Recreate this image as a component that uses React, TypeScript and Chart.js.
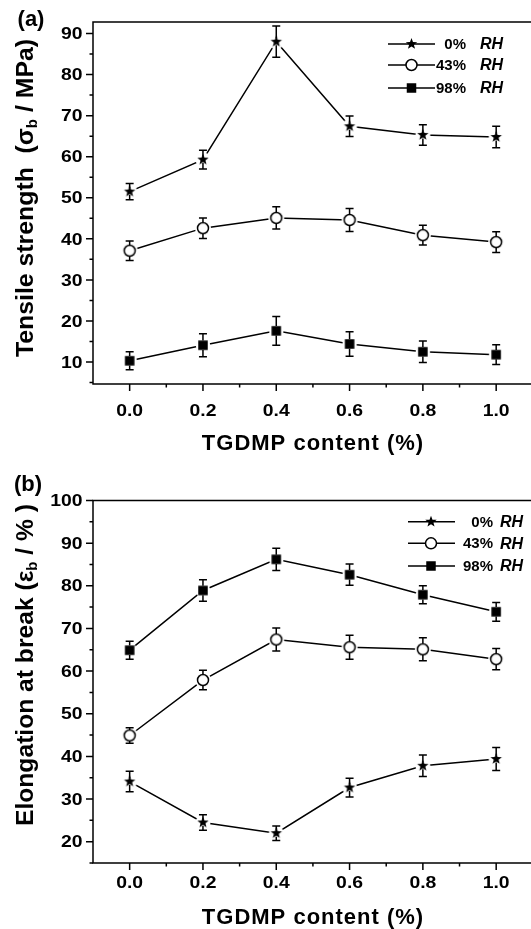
import React, { useEffect, useRef } from 'react';
import { Chart, registerables } from 'chart.js';
Chart.register(...registerables);

// ---------------- data ----------------
const xValues = [0, 0.2, 0.4, 0.6, 0.8, 1.0];
const xTickLabels = ['0.0', '0.2', '0.4', '0.6', '0.8', '1.0'];
const xMinorTicks = [0.1, 0.3, 0.5, 0.7, 0.9];
const seriesNames = ['0%', '43%', '98%'];

// (a) tensile strength, MPa
const tensile0 = [51.5, 59.3, 88.0, 67.4, 65.3, 64.8];
const tensile0Err = [2.0, 2.3, 3.8, 2.5, 2.5, 2.6];
const tensile43 = [37.1, 42.6, 45.1, 44.6, 40.9, 39.2];
const tensile43Err = [2.4, 2.5, 2.7, 2.8, 2.4, 2.5];
const tensile98 = [10.3, 14.1, 17.6, 14.4, 12.5, 11.8];
const tensile98Err = [2.2, 2.8, 3.5, 3.0, 2.6, 2.4];
const tensileTicks = [10, 20, 30, 40, 50, 60, 70, 80, 90];
const tensileMinor = [5, 15, 25, 35, 45, 55, 65, 75, 85];

// (b) elongation at break, %
const elong0 = [34.1, 24.5, 22.0, 32.7, 37.8, 39.4];
const elong0Err = [2.4, 1.8, 1.7, 2.2, 2.5, 2.7];
const elong43 = [44.9, 57.9, 67.4, 65.6, 65.1, 62.8];
const elong43Err = [1.8, 2.3, 2.7, 2.8, 2.7, 2.5];
const elong98 = [64.9, 78.9, 86.2, 82.6, 77.9, 73.9];
const elong98Err = [2.1, 2.5, 2.6, 2.5, 2.1, 2.2];
const elongTicks = [20, 30, 40, 50, 60, 70, 80, 90, 100];
const elongMinor = [15, 25, 35, 45, 55, 65, 75, 85, 95];

// ---------------- styling helpers ----------------
const FAM = '"Liberation Sans", Arial, Helvetica, sans-serif';
const font = (size: number, italic = false) => `${italic ? 'italic ' : ''}bold ${size}px ${FAM}`;
const STAR_R = 6;
const CIRCLE_R = 5.5;
const SQ = 9.5;
const CORE_R: Record<string, number> = { star: 3.5, circle: 5.5, square: 4.7 };
const kinds = ['star', 'circle', 'square'];

function drawGlyph(ctx: CanvasRenderingContext2D, kind: string, x: number, y: number) {
  ctx.save();
  ctx.lineWidth = 1.5;
  ctx.strokeStyle = '#000';
  ctx.fillStyle = '#000';
  if (kind === 'star') {
    ctx.beginPath();
    for (let i = 0; i < 10; i++) {
      const r = i % 2 === 0 ? STAR_R : STAR_R * 0.42;
      const a = -Math.PI / 2 + (i * Math.PI) / 5;
      const px = x + r * Math.cos(a);
      const py = y + r * Math.sin(a);
      if (i === 0) ctx.moveTo(px, py);
      else ctx.lineTo(px, py);
    }
    ctx.closePath();
    ctx.fill();
  } else if (kind === 'circle') {
    ctx.beginPath();
    ctx.arc(x, y, CIRCLE_R, 0, Math.PI * 2);
    ctx.fillStyle = '#fff';
    ctx.fill();
    ctx.stroke();
  } else {
    ctx.fillRect(x - SQ / 2, y - SQ / 2, SQ, SQ);
  }
  ctx.restore();
}

function markerCanvas(kind: string) {
  const c = document.createElement('canvas');
  c.width = 26;
  c.height = 26;
  const ctx = c.getContext('2d')!;
  const haloR = kind === 'circle' ? CIRCLE_R + 2.5 : kind === 'star' ? STAR_R + 1.5 : SQ / 2 + 2.5;
  ctx.beginPath();
  ctx.arc(13, 13, haloR, 0, Math.PI * 2);
  ctx.fillStyle = '#fff';
  ctx.fill();
  drawGlyph(ctx, kind, 13, 13);
  return c;
}

// text drawn with a horizontal stretch factor, anchored by align
function fillStretched(ctx: CanvasRenderingContext2D, text: string, x: number, y: number, sx: number, align: 'left' | 'right' | 'center') {
  ctx.save();
  ctx.translate(x, y);
  ctx.scale(sx, 1);
  ctx.textAlign = align;
  ctx.fillText(text, 0, 0);
  ctx.restore();
}

type Part = { text: string; sub?: boolean };

type PanelCfg = {
  height: number;
  top: number;
  padTop: number;
  chartBottom: number;
  yMin: number;
  yMax: number;
  xMax: number;
  yTicks: number[];
  yMinor: number[];
  series: { data: number[]; err: number[] }[];
  yTitle: Part[];
  yTitleBaseX: number;
  yTitleCenterY: number;
  yTitleLength: number;
  xTitle: string;
  xTitleCenterX: number;
  xTitleBaseY: number;
  xLabelY: number;
  tag: string;
  tagX: number;
  tagY: number;
  legX1: number;
  legX2: number;
  legMark: number;
  legRows: number[];
  legPctRight: number;
  legRhX: number;
};

const panelA: PanelCfg = {
  height: 460,
  top: 0,
  padTop: 22,
  chartBottom: 384,
  yMin: 4.65,
  yMax: 92.8,
  xMax: 1.095,
  yTicks: tensileTicks,
  yMinor: tensileMinor,
  series: [
    { data: tensile0, err: tensile0Err },
    { data: tensile43, err: tensile43Err },
    { data: tensile98, err: tensile98Err },
  ],
  yTitle: [{ text: 'Tensile strength  (σ' }, { text: 'b', sub: true }, { text: ' / MPa)' }],
  yTitleBaseX: 33,
  yTitleCenterY: 198,
  yTitleLength: 318,
  xTitle: 'TGDMP content (%)',
  xTitleCenterX: 313,
  xTitleBaseY: 450,
  xLabelY: 411.5,
  tag: '(a)',
  tagX: 31,
  tagY: 20,
  legX1: 388,
  legX2: 435,
  legMark: 411.5,
  legRows: [44, 65, 88],
  legPctRight: 466,
  legRhX: 480,
};

const panelB: PanelCfg = {
  height: 469,
  top: 460,
  padTop: 40.5,
  chartBottom: 403,
  yMin: 15,
  yMax: 100,
  xMax: 1.095,
  yTicks: elongTicks,
  yMinor: elongMinor,
  series: [
    { data: elong0, err: elong0Err },
    { data: elong43, err: elong43Err },
    { data: elong98, err: elong98Err },
  ],
  yTitle: [{ text: 'Elongation at break (ε' }, { text: 'b', sub: true }, { text: ' / % )' }],
  yTitleBaseX: 33,
  yTitleCenterY: 205,
  yTitleLength: 322,
  xTitle: 'TGDMP content (%)',
  xTitleCenterX: 313,
  xTitleBaseY: 464,
  xLabelY: 423,
  tag: '(b)',
  tagX: 28,
  tagY: 25,
  legX1: 408,
  legX2: 455,
  legMark: 431,
  legRows: [61.7, 83.3, 106],
  legPctRight: 493,
  legRhX: 500,
};

function makeDecor(cfg: PanelCfg) {
  return {
    id: 'decor',
    afterDatasetsDraw(chart: any) {
      const { ctx } = chart;
      const xs = chart.scales.x;
      const ys = chart.scales.y;
      ctx.save();
      ctx.strokeStyle = '#000';
      ctx.lineWidth = 1.5;
      chart.data.datasets.forEach((ds: any) => {
        const r = CORE_R[ds.kind];
        ds.data.forEach((p: any, j: number) => {
          const e = ds.errors[j];
          const px = xs.getPixelForValue(p.x);
          const yc = ys.getPixelForValue(p.y);
          const yt = ys.getPixelForValue(p.y + e);
          const yb = ys.getPixelForValue(p.y - e);
          ctx.beginPath();
          if (yc - r > yt) {
            ctx.moveTo(px, yt);
            ctx.lineTo(px, yc - r);
          }
          if (yc + r < yb) {
            ctx.moveTo(px, yc + r);
            ctx.lineTo(px, yb);
          }
          ctx.moveTo(px - 4, yt);
          ctx.lineTo(px + 4, yt);
          ctx.moveTo(px - 4, yb);
          ctx.lineTo(px + 4, yb);
          ctx.stroke();
        });
      });
      ctx.restore();
    },
    afterDraw(chart: any) {
      const { ctx, chartArea } = chart;
      const { left, right, top, bottom } = chartArea;
      const xs = chart.scales.x;
      const ys = chart.scales.y;
      ctx.save();
      ctx.strokeStyle = '#000';
      ctx.fillStyle = '#000';
      ctx.lineWidth = 1.5;
      // frame (right edge falls outside the picture)
      ctx.beginPath();
      ctx.moveTo(right + 2, top);
      ctx.lineTo(left, top);
      ctx.lineTo(left, bottom);
      ctx.lineTo(right + 2, bottom);
      ctx.stroke();
      // y ticks
      ctx.beginPath();
      cfg.yTicks.forEach((v) => {
        const py = ys.getPixelForValue(v);
        ctx.moveTo(left - 7, py);
        ctx.lineTo(left, py);
      });
      cfg.yMinor.forEach((v) => {
        const py = ys.getPixelForValue(v);
        ctx.moveTo(left - 3.5, py);
        ctx.lineTo(left, py);
      });
      // x ticks
      xValues.forEach((v) => {
        const px = xs.getPixelForValue(v);
        ctx.moveTo(px, bottom);
        ctx.lineTo(px, bottom + 7);
      });
      xMinorTicks.forEach((v) => {
        const px = xs.getPixelForValue(v);
        ctx.moveTo(px, bottom);
        ctx.lineTo(px, bottom + 3.5);
      });
      ctx.stroke();
      // y tick labels
      ctx.font = font(17);
      ctx.textBaseline = 'middle';
      cfg.yTicks.forEach((v) => {
        fillStretched(ctx, String(v), left - 10.5, ys.getPixelForValue(v) + 1, 1.14, 'right');
      });
      // x tick labels
      xValues.forEach((v, i) => {
        fillStretched(ctx, xTickLabels[i], xs.getPixelForValue(v), cfg.xLabelY, 1.14, 'center');
      });
      // x title
      ctx.font = font(22);
      ctx.textBaseline = 'alphabetic';
      ctx.textAlign = 'center';
      (ctx as any).letterSpacing = '1px';
      ctx.fillText(cfg.xTitle, cfg.xTitleCenterX, cfg.xTitleBaseY);
      (ctx as any).letterSpacing = '0px';
      // y title (rotated, with subscript), stretched to its length in the figure
      ctx.save();
      ctx.translate(cfg.yTitleBaseX, cfg.yTitleCenterY);
      ctx.rotate(-Math.PI / 2);
      ctx.textAlign = 'left';
      ctx.textBaseline = 'alphabetic';
      let total = 0;
      cfg.yTitle.forEach((p) => {
        ctx.font = font(p.sub ? 14 : 23);
        total += ctx.measureText(p.text).width;
      });
      ctx.scale(cfg.yTitleLength / total, 1);
      let cx = -total / 2;
      cfg.yTitle.forEach((p) => {
        ctx.font = font(p.sub ? 14 : 23);
        ctx.fillText(p.text, cx, p.sub ? 4 : 0);
        cx += ctx.measureText(p.text).width;
      });
      ctx.restore();
      // panel tag
      ctx.font = font(22);
      ctx.textAlign = 'center';
      ctx.textBaseline = 'middle';
      ctx.fillText(cfg.tag, cfg.tagX, cfg.tagY);
      // legend
      seriesNames.forEach((name, i) => {
        const y = cfg.legRows[i];
        ctx.beginPath();
        ctx.moveTo(cfg.legX1, y);
        ctx.lineTo(cfg.legX2, y);
        ctx.stroke();
        drawGlyph(ctx, kinds[i], cfg.legMark, y);
        ctx.font = font(15);
        ctx.textBaseline = 'middle';
        fillStretched(ctx, name, cfg.legPctRight, y + 1, 1.0, 'right');
        ctx.font = font(16, true);
        fillStretched(ctx, 'RH', cfg.legRhX, y + 1, 1.0, 'left');
      });
      ctx.restore();
    },
  };
}

function Panel({ cfg }: { cfg: PanelCfg }) {
  const ref = useRef<HTMLCanvasElement>(null);
  useEffect(() => {
    const canvas = ref.current!;
    const datasets = cfg.series.map((s, i) => ({
      label: seriesNames[i],
      data: xValues.map((x, j) => ({ x, y: s.data[j] })),
      errors: s.err,
      kind: kinds[i],
      borderColor: '#000',
      backgroundColor: '#000',
      borderWidth: 1.5,
      tension: 0,
      fill: false,
      showLine: true,
      pointStyle: markerCanvas(kinds[i]),
      pointRadius: 6,
      pointHoverRadius: 6,
    }));
    const chart = new Chart(canvas, {
      type: 'line',
      data: { datasets } as any,
      options: {
        responsive: false,
        animation: false,
        devicePixelRatio: 1,
        events: [],
        layout: { autoPadding: false, padding: { top: cfg.padTop, left: 0, right: 0, bottom: 0 } },
        plugins: { legend: { display: false }, tooltip: { enabled: false }, title: { display: false } },
        scales: {
          x: {
            type: 'linear',
            min: -0.1,
            max: cfg.xMax,
            grid: { display: false },
            border: { display: false },
            ticks: { display: false },
            afterFit: (s: any) => {
              s.height = cfg.height - cfg.chartBottom;
            },
          },
          y: {
            type: 'linear',
            min: cfg.yMin,
            max: cfg.yMax,
            grid: { display: false },
            border: { display: false },
            ticks: { display: false },
            afterFit: (s: any) => {
              s.width = 93;
            },
          },
        },
      } as any,
      plugins: [makeDecor(cfg)],
    });
    return () => chart.destroy();
  }, []);
  return (
    <canvas
      ref={ref}
      width={531}
      height={cfg.height}
      style={{ position: 'absolute', left: 0, top: cfg.top, width: 531, height: cfg.height, display: 'block' }}
    />
  );
}

export default function App() {
  return (
    <div style={{ position: 'absolute', left: 0, top: 0, width: 531, height: 929, background: '#fff', overflow: 'hidden' }}>
      <Panel cfg={panelA} />
      <Panel cfg={panelB} />
    </div>
  );
}
